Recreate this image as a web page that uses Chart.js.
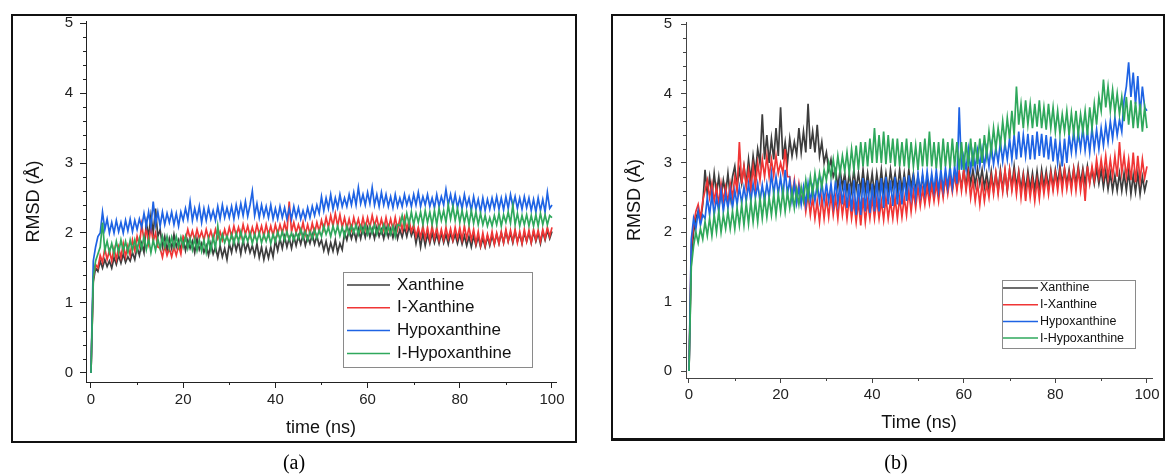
<!DOCTYPE html>
<html>
<head>
<meta charset="utf-8">
<script src="https://cdn.jsdelivr.net/npm/chart.js"></script>
<style>
  body { margin: 0; background: #fff; width: 1165px; height: 475px; position: relative; overflow: hidden; }
  .frame { position: absolute; border: 2px solid #111; box-sizing: border-box; }
  canvas { position: absolute; top: 0; }
  .cap { position: absolute; top: 451px; width: 60px; text-align: center; line-height: 23px;
         font-family: "Liberation Serif", "Times New Roman", serif; font-size: 20px; color: #000; }
</style>
</head>
<body>
<div class="frame" style="left:11px;top:14px;width:566px;height:429px"></div>
<div class="frame" style="left:611px;top:14px;width:554px;height:427px;border-bottom-width:3px"></div>
<canvas id="chartA" width="580" height="475" style="left:0"></canvas>
<canvas id="chartB" width="565" height="475" style="left:600px"></canvas>
<div class="cap" style="left:264px">(a)</div>
<div class="cap" style="left:866px">(b)</div>

<script>
// time in ns (0.5 ns steps), shared by every trace
var time = [
  0, 0.5, 1, 1.5, 2, 2.5, 3, 3.5, 4, 4.5,
  5, 5.5, 6, 6.5, 7, 7.5, 8, 8.5, 9, 9.5,
  10, 10.5, 11, 11.5, 12, 12.5, 13, 13.5, 14, 14.5,
  15, 15.5, 16, 16.5, 17, 17.5, 18, 18.5, 19, 19.5,
  20, 20.5, 21, 21.5, 22, 22.5, 23, 23.5, 24, 24.5,
  25, 25.5, 26, 26.5, 27, 27.5, 28, 28.5, 29, 29.5,
  30, 30.5, 31, 31.5, 32, 32.5, 33, 33.5, 34, 34.5,
  35, 35.5, 36, 36.5, 37, 37.5, 38, 38.5, 39, 39.5,
  40, 40.5, 41, 41.5, 42, 42.5, 43, 43.5, 44, 44.5,
  45, 45.5, 46, 46.5, 47, 47.5, 48, 48.5, 49, 49.5,
  50, 50.5, 51, 51.5, 52, 52.5, 53, 53.5, 54, 54.5,
  55, 55.5, 56, 56.5, 57, 57.5, 58, 58.5, 59, 59.5,
  60, 60.5, 61, 61.5, 62, 62.5, 63, 63.5, 64, 64.5,
  65, 65.5, 66, 66.5, 67, 67.5, 68, 68.5, 69, 69.5,
  70, 70.5, 71, 71.5, 72, 72.5, 73, 73.5, 74, 74.5,
  75, 75.5, 76, 76.5, 77, 77.5, 78, 78.5, 79, 79.5,
  80, 80.5, 81, 81.5, 82, 82.5, 83, 83.5, 84, 84.5,
  85, 85.5, 86, 86.5, 87, 87.5, 88, 88.5, 89, 89.5,
  90, 90.5, 91, 91.5, 92, 92.5, 93, 93.5, 94, 94.5,
  95, 95.5, 96, 96.5, 97, 97.5, 98, 98.5, 99, 99.5,
  100];

var names = ["Xanthine", "I-Xanthine", "Hypoxanthine", "I-Hypoxanthine"];
var colors = ["#3d3d3d", "#f03535", "#1e63e4", "#2fa85c"];

// panel (a) RMSD traces (Å)
var xanA = [
  0, 1.3, 1.5, 1.45, 1.6, 1.5, 1.62, 1.52, 1.6, 1.5,
  1.65, 1.55, 1.68, 1.57, 1.7, 1.58, 1.66, 1.6, 1.72, 1.62,
  1.8, 1.68, 1.85, 1.72, 2.15, 1.95, 2.25, 2.0, 2.35, 1.95,
  2.05, 1.8, 1.95, 1.75, 1.92, 1.78, 1.98, 1.8, 1.9, 1.76,
  1.92, 1.75, 1.9, 1.78, 1.88, 1.72, 1.92, 1.76, 1.85, 1.72,
  1.82, 1.68, 1.85, 1.7, 1.8, 1.65, 1.82, 1.66, 1.78, 1.62,
  1.85, 1.72, 1.9, 1.75, 1.88, 1.7, 1.9, 1.74, 1.86, 1.72,
  1.82, 1.68, 1.85, 1.65, 1.8, 1.62, 1.78, 1.64, 1.8, 1.66,
  1.9, 1.75, 1.92, 1.78, 1.95, 1.8, 1.93, 1.78, 1.95, 1.82,
  1.96, 1.84, 1.98, 1.82, 1.95, 1.85, 1.98, 1.84, 1.96, 1.82,
  1.9, 1.75, 1.88, 1.72, 1.86, 1.74, 1.9, 1.72, 1.85, 1.76,
  2.0, 1.9, 2.05, 1.92, 2.04, 1.9, 2.06, 1.92, 2.08, 1.94,
  2.08, 1.94, 2.06, 1.92, 2.08, 1.95, 2.05, 1.92, 2.08, 1.94,
  2.06, 1.93, 2.08, 1.92, 2.05, 1.94, 2.08, 1.95, 2.1, 1.96,
  2.05, 1.85, 2.02, 1.8, 2.0, 1.82, 1.98, 1.85, 2.0, 1.86,
  1.98, 1.85, 2.0, 1.86, 1.98, 1.84, 2.0, 1.88, 1.98, 1.85,
  1.98, 1.84, 1.96, 1.82, 1.95, 1.8, 1.96, 1.82, 1.95, 1.8,
  1.92, 1.8, 1.95, 1.82, 1.96, 1.84, 1.98, 1.85, 2.0, 1.86,
  2.02, 1.88, 2.0, 1.86, 2.02, 1.88, 1.98, 1.85, 2.0, 1.88,
  2.0, 1.86, 2.02, 1.88, 2.0, 1.85, 2.02, 1.9, 2.04, 1.92,
  2.02];
var ixanA = [
  0, 1.35, 1.55, 1.5, 1.68, 1.58, 1.78, 1.62, 1.75, 1.6,
  1.78, 1.62, 1.8, 1.65, 1.85, 1.66, 1.82, 1.68, 1.9, 1.75,
  1.95, 1.82, 2.12, 1.9, 2.05, 1.85, 2.08, 1.88, 2.0, 1.8,
  1.78, 1.65, 1.82, 1.68, 1.78, 1.66, 1.8, 1.68, 1.82, 1.7,
  1.95, 1.9, 2.05, 1.92, 2.03, 1.9, 2.05, 1.92, 2.02, 1.9,
  2.05, 1.92, 2.03, 1.9, 2.05, 1.92, 2.02, 1.9, 2.05, 1.93,
  2.08, 1.95, 2.1, 1.96, 2.08, 1.95, 2.12, 1.98, 2.1, 1.95,
  2.08, 1.96, 2.12, 1.98, 2.1, 1.95, 2.12, 1.97, 2.1, 1.96,
  2.12, 1.98, 2.12, 2.0, 2.14, 2.0, 2.45, 2.02, 2.15, 2.0,
  2.12, 2.0, 2.15, 1.98, 2.12, 1.98, 2.14, 2.0, 2.15, 2.02,
  2.18, 2.05, 2.22, 2.08, 2.25, 2.1, 2.28, 2.1, 2.26, 2.08,
  2.22, 2.06, 2.2, 2.05, 2.22, 2.08, 2.2, 2.05, 2.22, 2.06,
  2.22, 2.08, 2.25, 2.1, 2.22, 2.06, 2.2, 2.05, 2.22, 2.06,
  2.2, 2.05, 2.22, 2.05, 2.2, 2.04, 2.22, 2.05, 2.18, 2.02,
  2.12, 1.95, 2.08, 1.94, 2.1, 1.92, 2.08, 1.9, 2.1, 1.92,
  2.08, 1.9, 2.05, 1.9, 2.08, 1.92, 2.06, 1.9, 2.08, 1.92,
  2.08, 1.9, 2.1, 1.92, 2.08, 1.9, 2.05, 1.85, 2.02, 1.82,
  2.0, 1.82, 1.98, 1.85, 2.02, 1.84, 2.0, 1.85, 2.02, 1.86,
  2.05, 1.88, 2.04, 1.88, 2.05, 1.86, 2.02, 1.85, 2.05, 1.88,
  2.04, 1.86, 2.05, 1.9, 2.04, 1.88, 2.05, 1.92, 2.08, 1.95,
  2.08];
var hypA = [
  0, 1.6, 1.8, 1.95, 2.0, 2.3, 2.05, 2.2, 2.0, 2.15,
  2.0, 2.18, 2.02, 2.15, 2.0, 2.18, 2.03, 2.2, 2.02, 2.18,
  2.05, 2.2, 2.08, 2.28, 2.1, 2.3, 2.08, 2.45, 2.12, 2.3,
  2.1, 2.3, 2.12, 2.28, 2.15, 2.3, 2.12, 2.28, 2.1, 2.3,
  2.18, 2.35, 2.2, 2.45, 2.18, 2.35, 2.2, 2.38, 2.15, 2.35,
  2.18, 2.36, 2.2, 2.32, 2.18, 2.38, 2.2, 2.4, 2.22, 2.36,
  2.22, 2.38, 2.2, 2.4, 2.24, 2.42, 2.25, 2.45, 2.24, 2.4,
  2.6, 2.25, 2.42, 2.22, 2.4, 2.24, 2.38, 2.22, 2.4, 2.2,
  2.35, 2.2, 2.38, 2.22, 2.36, 2.2, 2.35, 2.2, 2.38, 2.22,
  2.36, 2.2, 2.32, 2.2, 2.36, 2.22, 2.38, 2.25, 2.4, 2.28,
  2.52, 2.32, 2.5, 2.35, 2.55, 2.34, 2.5, 2.36, 2.55, 2.38,
  2.5, 2.38, 2.55, 2.4, 2.58, 2.4, 2.65, 2.42, 2.55, 2.4,
  2.58, 2.42, 2.65, 2.4, 2.55, 2.38, 2.58, 2.4, 2.55, 2.38,
  2.52, 2.36, 2.55, 2.38, 2.5, 2.38, 2.55, 2.4, 2.52, 2.38,
  2.55, 2.4, 2.58, 2.38, 2.52, 2.4, 2.55, 2.38, 2.5, 2.36,
  2.55, 2.38, 2.52, 2.4, 2.62, 2.4, 2.55, 2.38, 2.55, 2.36,
  2.5, 2.35, 2.55, 2.38, 2.5, 2.32, 2.52, 2.34, 2.48, 2.3,
  2.5, 2.32, 2.48, 2.34, 2.5, 2.35, 2.52, 2.34, 2.5, 2.33,
  2.52, 2.35, 2.55, 2.38, 2.52, 2.35, 2.5, 2.34, 2.52, 2.36,
  2.5, 2.32, 2.48, 2.3, 2.5, 2.32, 2.48, 2.3, 2.58, 2.35,
  2.4];
var ihypA = [
  0, 1.35, 1.6, 1.7, 1.8, 2.15, 1.75, 1.88, 1.72, 1.85,
  1.7, 1.88, 1.72, 1.9, 1.74, 1.88, 1.72, 1.9, 1.75, 1.9,
  1.75, 1.92, 1.78, 1.95, 1.76, 1.92, 1.72, 1.9, 1.75, 1.92,
  1.78, 1.95, 1.8, 1.95, 1.78, 1.94, 1.8, 1.95, 1.8, 1.94,
  1.8, 1.95, 1.78, 1.92, 1.76, 1.92, 1.75, 1.9, 1.74, 1.9,
  1.72, 1.92, 1.75, 1.95, 1.78, 2.1, 1.85, 1.98, 1.86, 1.96,
  1.85, 1.98, 1.85, 2.0, 1.88, 2.02, 1.86, 1.98, 1.88, 2.0,
  1.85, 1.98, 1.88, 2.0, 1.86, 1.98, 1.88, 2.0, 1.85, 1.98,
  1.88, 2.02, 1.9, 2.02, 1.9, 2.02, 1.9, 2.0, 1.9, 2.0,
  1.92, 2.05, 1.92, 2.02, 1.9, 2.02, 1.92, 2.05, 1.93, 2.04,
  1.95, 2.1, 1.98, 2.08, 1.95, 2.1, 1.98, 2.1, 1.96, 2.08,
  1.95, 2.1, 1.98, 2.1, 2.0, 2.12, 1.98, 2.1, 2.0, 2.12,
  1.98, 2.1, 2.0, 2.12, 1.98, 2.1, 2.0, 2.12, 1.98, 2.1,
  1.98, 2.1, 1.95, 2.12, 2.1, 2.25, 2.1, 2.28, 2.12, 2.3,
  2.12, 2.28, 2.15, 2.3, 2.12, 2.32, 2.15, 2.3, 2.12, 2.32,
  2.12, 2.35, 2.18, 2.32, 2.15, 2.4, 2.2, 2.38, 2.18, 2.35,
  2.15, 2.32, 2.15, 2.3, 2.12, 2.32, 2.14, 2.3, 2.12, 2.28,
  2.12, 2.25, 2.1, 2.22, 2.1, 2.25, 2.12, 2.28, 2.1, 2.26,
  2.15, 2.3, 2.14, 2.4, 2.12, 2.28, 2.1, 2.25, 2.12, 2.26,
  2.1, 2.25, 2.1, 2.26, 2.1, 2.28, 2.12, 2.26, 2.12, 2.25,
  2.22];

// panel (b) RMSD traces (Å)
var xanB = [
  0, 1.6, 2.0, 2.2, 2.3, 2.15, 2.4, 2.9, 2.55, 2.8,
  2.5, 2.85, 2.55, 2.8, 2.5, 2.75, 2.55, 2.85, 2.5, 2.8,
  2.95, 2.65, 2.9, 2.7, 2.95, 2.7, 3.05, 2.75, 3.1, 2.85,
  3.2, 3.0, 3.7, 3.05, 3.4, 3.0, 3.35, 3.05, 3.5, 3.1,
  3.8, 3.05, 3.3, 3.0, 3.35, 3.1, 3.3, 3.12, 3.5, 3.15,
  3.45, 3.15, 3.85, 3.2, 3.45, 3.15, 3.55, 3.1, 3.3, 3.0,
  3.15, 2.9, 3.05, 2.8, 2.9, 2.65, 2.9, 2.65, 2.85, 2.6,
  2.85, 2.6, 2.9, 2.62, 2.85, 2.6, 2.9, 2.6, 2.85, 2.6,
  2.85, 2.55, 2.85, 2.6, 2.9, 2.6, 2.85, 2.6, 2.9, 2.65,
  2.85, 2.6, 2.9, 2.6, 2.85, 2.6, 2.9, 2.65, 2.85, 2.6,
  2.8, 2.6, 2.8, 2.55, 2.75, 2.55, 2.78, 2.55, 2.75, 2.56,
  2.75, 2.55, 2.78, 2.6, 2.8, 2.62, 2.82, 2.65, 2.85, 2.65,
  2.9, 2.65, 2.95, 2.7, 2.9, 2.68, 2.92, 2.7, 2.9, 2.65,
  2.85, 2.62, 2.88, 2.6, 2.85, 2.6, 2.9, 2.62, 2.88, 2.6,
  2.9, 2.65, 2.95, 2.65, 2.88, 2.62, 2.85, 2.6, 2.88, 2.62,
  2.85, 2.6, 2.88, 2.6, 2.9, 2.65, 2.88, 2.64, 2.9, 2.65,
  2.9, 2.7, 2.95, 2.7, 2.92, 2.7, 2.9, 2.68, 2.92, 2.7,
  2.95, 2.7, 2.92, 2.7, 2.95, 2.72, 2.9, 2.7, 2.92, 2.7,
  2.9, 2.65, 2.88, 2.62, 2.85, 2.6, 2.82, 2.6, 2.85, 2.6,
  2.85, 2.6, 2.88, 2.55, 2.82, 2.58, 2.85, 2.55, 2.8, 2.6,
  2.75];
var ixanB = [
  0, 1.8, 2.1, 2.3, 2.4, 2.2, 2.45, 2.6, 2.75, 2.5,
  2.7, 2.45, 2.65, 2.4, 2.7, 2.45, 2.65, 2.42, 2.7, 2.5,
  2.8, 2.6, 3.3, 2.7, 2.95, 2.65, 2.9, 2.6, 2.95, 2.65,
  3.0, 2.75, 3.05, 2.8, 3.1, 2.8, 3.05, 2.82, 3.1, 2.85,
  3.0, 2.85, 3.2, 2.8, 2.8, 2.5, 2.75, 2.45, 2.7, 2.45,
  2.6, 2.3, 2.55, 2.25, 2.5, 2.2, 2.45, 2.15, 2.5, 2.2,
  2.5, 2.22, 2.55, 2.25, 2.5, 2.2, 2.55, 2.25, 2.5, 2.2,
  2.5, 2.2, 2.45, 2.15, 2.45, 2.1, 2.5, 2.15, 2.45, 2.2,
  2.5, 2.2, 2.48, 2.2, 2.45, 2.18, 2.5, 2.2, 2.45, 2.2,
  2.5, 2.2, 2.5, 2.22, 2.5, 2.25, 2.6, 2.3, 2.6, 2.35,
  2.65, 2.38, 2.62, 2.4, 2.65, 2.42, 2.68, 2.45, 2.7, 2.45,
  2.75, 2.5, 2.8, 2.55, 2.8, 2.58, 2.85, 2.6, 2.88, 2.6,
  2.9, 2.6, 2.85, 2.5, 2.75, 2.45, 2.7, 2.4, 2.72, 2.45,
  2.7, 2.5, 2.8, 2.55, 2.85, 2.55, 2.85, 2.58, 2.9, 2.6,
  2.9, 2.6, 2.85, 2.55, 2.85, 2.5, 2.8, 2.45, 2.78, 2.5,
  2.75, 2.45, 2.75, 2.48, 2.8, 2.55, 2.8, 2.55, 2.85, 2.6,
  2.85, 2.6, 2.88, 2.6, 2.9, 2.62, 2.85, 2.6, 2.9, 2.6,
  2.9, 2.6, 2.85, 2.45, 2.95, 2.7, 2.95, 2.75, 3.05, 2.8,
  3.05, 2.8, 3.1, 2.78, 3.05, 2.8, 3.1, 2.8, 3.3, 2.85,
  3.1, 2.8, 3.05, 2.75, 3.15, 2.72, 3.1, 2.75, 3.05, 2.78,
  2.95];
var hypB = [
  0, 1.9, 2.2, 2.05, 2.3, 2.1, 2.25, 2.2, 2.5, 2.25,
  2.55, 2.25, 2.5, 2.3, 2.6, 2.3, 2.55, 2.35, 2.6, 2.35,
  2.6, 2.4, 2.65, 2.42, 2.65, 2.45, 2.7, 2.45, 2.7, 2.5,
  2.7, 2.45, 2.68, 2.45, 2.7, 2.5, 2.85, 2.55, 2.8, 2.55,
  2.8, 2.5, 2.9, 2.55, 2.75, 2.45, 2.7, 2.42, 2.65, 2.4,
  2.65, 2.4, 2.7, 2.45, 2.65, 2.45, 2.7, 2.45, 2.72, 2.45,
  2.7, 2.45, 2.7, 2.4, 2.75, 2.42, 2.72, 2.4, 2.75, 2.35,
  2.7, 2.3, 2.75, 2.25, 2.7, 2.25, 2.78, 2.3, 2.75, 2.28,
  2.7, 2.3, 2.75, 2.3, 2.78, 2.35, 2.8, 2.4, 2.75, 2.38,
  2.8, 2.4, 2.75, 2.4, 2.8, 2.45, 2.82, 2.5, 2.8, 2.5,
  2.85, 2.55, 2.85, 2.58, 2.88, 2.6, 2.85, 2.6, 2.9, 2.6,
  2.9, 2.62, 2.92, 2.65, 2.95, 2.65, 2.95, 2.7, 3.8, 2.9,
  3.1, 2.9, 3.2, 2.9, 3.15, 2.92, 3.18, 2.95, 3.2, 2.95,
  3.2, 2.95, 3.25, 2.98, 3.22, 3.0, 3.3, 3.02, 3.28, 3.05,
  3.35, 3.05, 3.4, 3.05, 3.45, 3.08, 3.4, 3.1, 3.42, 3.05,
  3.4, 3.05, 3.45, 3.1, 3.42, 3.08, 3.4, 3.05, 3.38, 3.02,
  3.35, 3.0, 3.3, 2.95, 3.35, 3.0, 3.4, 3.15, 3.45, 3.15,
  3.45, 3.2, 3.5, 3.18, 3.45, 3.15, 3.5, 3.2, 3.48, 3.2,
  3.5, 3.25, 3.55, 3.3, 3.6, 3.35, 3.65, 3.4, 3.62, 3.45,
  3.9, 4.1, 4.45, 3.95, 4.3, 3.85, 4.25, 3.7, 4.1, 3.8,
  3.75];
var ihypB = [
  0, 1.5, 1.8, 2.0, 1.85, 2.05, 1.9, 2.15, 1.95, 2.2,
  1.95, 2.25, 2.0, 2.3, 2.0, 2.25, 2.05, 2.3, 2.05, 2.3,
  2.05, 2.35, 2.1, 2.4, 2.1, 2.42, 2.12, 2.45, 2.15, 2.45,
  2.15, 2.5, 2.2, 2.5, 2.22, 2.5, 2.25, 2.55, 2.25, 2.55,
  2.3, 2.6, 2.3, 2.58, 2.35, 2.6, 2.35, 2.62, 2.4, 2.65,
  2.45, 2.75, 2.5, 2.8, 2.55, 2.85, 2.6, 2.85, 2.65, 2.9,
  2.75, 3.0, 2.8, 3.05, 2.8, 3.1, 2.85, 3.1, 2.88, 3.15,
  2.85, 3.2, 2.9, 3.25, 2.9, 3.3, 2.95, 3.3, 2.95, 3.35,
  3.0, 3.5, 3.0, 3.4, 3.0, 3.45, 2.98, 3.4, 3.0, 3.35,
  2.95, 3.35, 2.95, 3.3, 2.95, 3.35, 2.92, 3.3, 2.95, 3.25,
  2.9, 3.3, 2.95, 3.35, 2.95, 3.45, 2.95, 3.3, 2.92, 3.3,
  2.9, 3.35, 2.95, 3.3, 2.92, 3.35, 2.95, 3.3, 2.9, 3.3,
  2.9, 3.3, 2.95, 3.35, 2.95, 3.3, 2.98, 3.35, 3.0, 3.4,
  3.1, 3.45, 3.15, 3.5, 3.2, 3.5, 3.25, 3.6, 3.3, 3.65,
  3.35, 3.75, 3.4, 4.1, 3.55, 3.85, 3.5, 3.9, 3.55, 3.85,
  3.5, 3.85, 3.52, 3.9, 3.5, 3.8, 3.48, 3.85, 3.5, 3.8,
  3.45, 3.75, 3.42, 3.7, 3.45, 3.75, 3.4, 3.72, 3.42, 3.75,
  3.4, 3.7, 3.45, 3.75, 3.4, 3.8, 3.5, 3.85, 3.55, 3.95,
  3.75, 4.2, 3.8, 4.1, 3.75, 4.05, 3.72, 4.0, 3.7, 3.95,
  3.6, 3.95, 3.55, 3.9, 3.5, 3.88, 3.5, 3.85, 3.45, 3.8,
  3.5];

var xTicks = [0, 20, 40, 60, 80, 100];
var yTicks = [0, 1, 2, 3, 4, 5];
var xMinor = [10, 30, 50, 70, 90];
var yMinor = [0.2, 0.4, 0.6, 0.8, 1.2, 1.4, 1.6, 1.8, 2.2, 2.4, 2.6, 2.8,
  3.2, 3.4, 3.6, 3.8, 4.2, 4.4, 4.6, 4.8];

// minor ticks + boxed legend, Origin style
var originBits = {
  id: 'originBits',
  afterDraw: function (chart, args, opts) {
    var ctx = chart.ctx, xs = chart.scales.x, ys = chart.scales.y;
    ctx.save();
    ctx.strokeStyle = opts.axisColor;
    ctx.lineWidth = 1;
    ctx.beginPath();
    xMinor.forEach(function (v) {
      var px = Math.round(xs.getPixelForValue(v)) + 0.5;
      ctx.moveTo(px, xs.top);
      ctx.lineTo(px, xs.top + opts.minorLen);
    });
    yMinor.forEach(function (v) {
      var py = Math.round(ys.getPixelForValue(v)) + 0.5;
      ctx.moveTo(ys.right, py);
      ctx.lineTo(ys.right - opts.minorLen, py);
    });
    ctx.stroke();

    var lg = opts.legend;
    ctx.fillStyle = '#fff';
    ctx.fillRect(lg.x, lg.y, lg.w, lg.h);
    ctx.strokeStyle = '#8a8a8a';
    ctx.strokeRect(lg.x + 0.5, lg.y + 0.5, lg.w, lg.h);
    ctx.font = lg.size + 'px "Liberation Sans", Arial, sans-serif';
    ctx.textBaseline = 'middle';
    ctx.textAlign = 'left';
    chart.data.datasets.forEach(function (ds, i) {
      var ry = lg.row0 + i * lg.step;
      ctx.strokeStyle = ds.borderColor;
      ctx.lineWidth = 1.5;
      ctx.beginPath();
      ctx.moveTo(lg.lx1, ry);
      ctx.lineTo(lg.lx2, ry);
      ctx.stroke();
      ctx.fillStyle = '#111';
      ctx.fillText(ds.label, lg.tx, ry);
    });
    ctx.restore();
  }
};

function makeChart(id, series, cfg) {
  var datasets = series.map(function (vals, i) {
    return {
      label: names[i],
      data: time.map(function (t, k) { return { x: t, y: vals[k] }; }),
      borderColor: colors[i],
      borderWidth: 1.7,
      pointRadius: 0,
      tension: 0,
      order: 4 - i
    };
  });
  var tickFont = { family: '"Liberation Sans", Arial, sans-serif', size: 15 };
  var titleFont = { family: '"Liberation Sans", Arial, sans-serif', size: 18 };
  return new Chart(id, {
    type: 'line',
    data: { datasets: datasets },
    options: {
      responsive: false,
      animation: false,
      layout: { padding: cfg.pad },
      plugins: {
        legend: { display: false },
        tooltip: { enabled: false },
        originBits: { axisColor: cfg.axisColor, minorLen: 3, legend: cfg.legend }
      },
      scales: {
        x: {
          type: 'linear',
          min: cfg.xMin, max: cfg.xMax,
          afterBuildTicks: function (ax) { ax.ticks = xTicks.map(function (v) { return { value: v }; }); },
          afterFit: function (ax) { ax.height = 60; },
          grid: { drawOnChartArea: false, tickLength: cfg.tickLen, color: cfg.axisColor },
          border: { display: true, color: cfg.axisColor, width: 1 },
          ticks: { font: tickFont, color: '#222', padding: cfg.xPad, maxRotation: 0 },
          title: { display: true, text: cfg.xTitle, font: titleFont, color: '#111',
                   padding: { top: 0, bottom: cfg.xTitlePad } }
        },
        y: {
          min: cfg.yMin, max: 5.03,
          afterBuildTicks: function (ax) { ax.ticks = yTicks.map(function (v) { return { value: v }; }); },
          afterFit: function (ax) { ax.width = 86; },
          grid: { drawOnChartArea: false, tickLength: cfg.tickLen, color: cfg.axisColor },
          border: { display: true, color: cfg.axisColor, width: 1 },
          ticks: { font: tickFont, color: '#222', padding: cfg.yPad },
          title: { display: true, text: 'RMSD (Å)', font: titleFont, color: '#111',
                   padding: { top: cfg.yTitlePad, bottom: 0 } }
        }
      }
    },
    plugins: [originBits]
  });
}

makeChart('chartA', [xanA, ixanA, hypA, ihypA], {
  pad: { left: 0, top: 21, right: 24, bottom: 33 },
  xMin: -1.08, xMax: 100.87, yMin: -0.13,
  tickLen: 6, xPad: 3, yPad: 7, xTitlePad: 3, yTitlePad: 23,
  axisColor: '#222', xTitle: 'time (ns)',
  legend: { x: 343, y: 272, w: 189, h: 95, row0: 285, step: 22.8, lx1: 347, lx2: 390, tx: 397, size: 17 }
});

makeChart('chartB', [xanB, ixanB, hypB, ihypB], {
  pad: { left: 0, top: 22, right: 13, bottom: 37 },
  xMin: -0.655, xMax: 101.1, yMin: -0.1,
  tickLen: 5, xPad: 3, yPad: 9, xTitlePad: 4, yTitlePad: 24,
  axisColor: '#444', xTitle: 'Time (ns)',
  legend: { x: 402, y: 280, w: 133, h: 68, row0: 288, step: 16.7, lx1: 403, lx2: 438, tx: 440, size: 12.5 }
});
</script>
</body>
</html>
